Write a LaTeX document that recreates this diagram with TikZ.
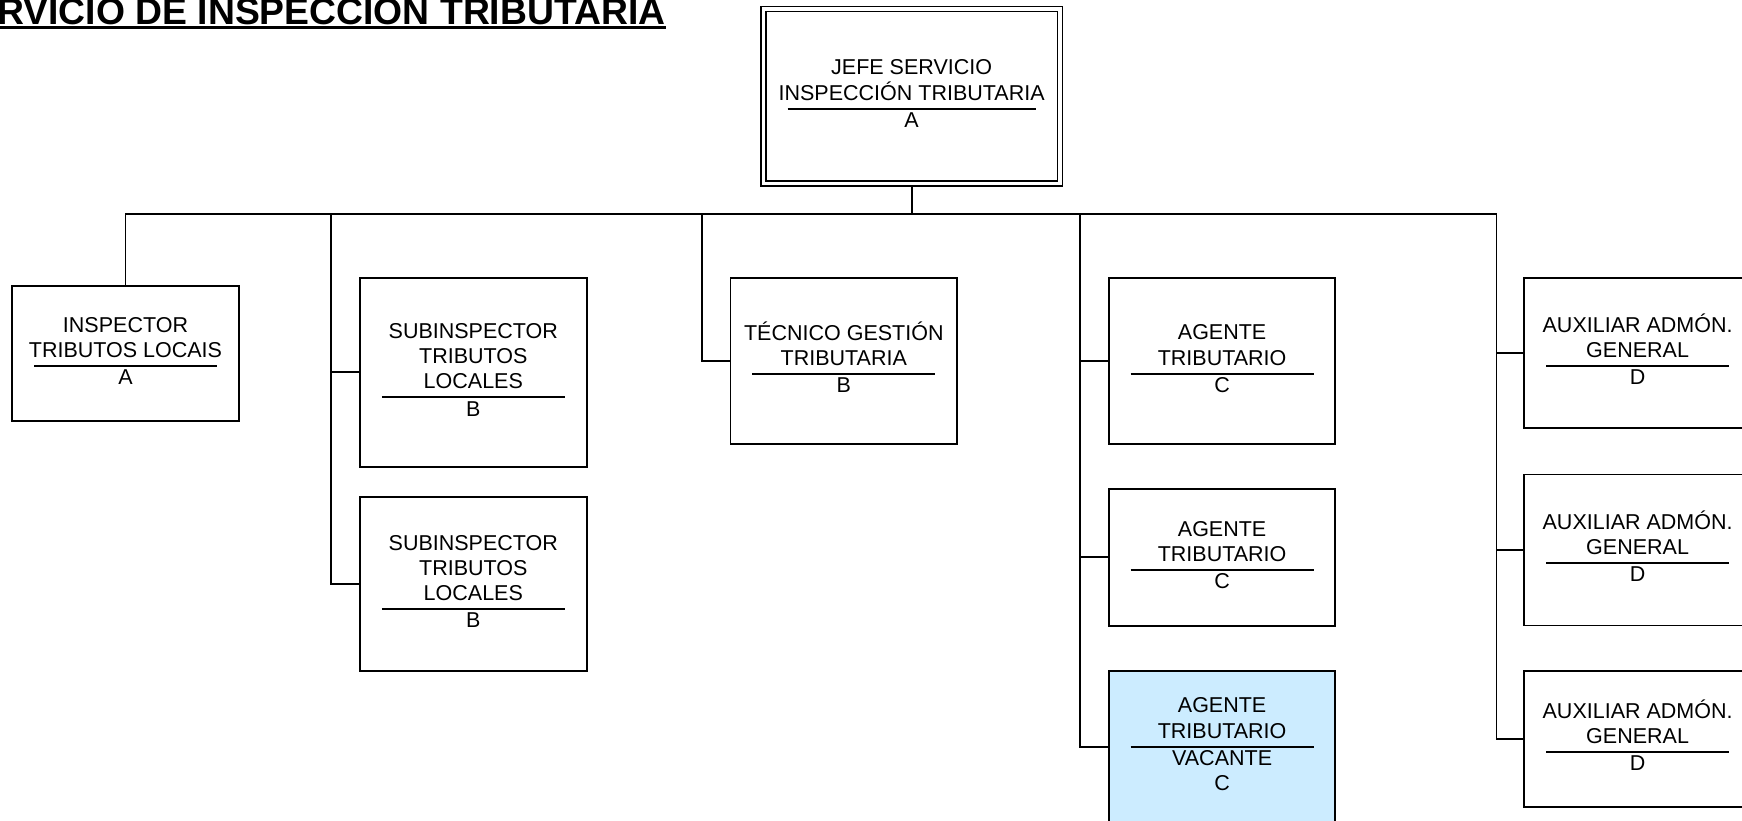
\documentclass[tikz,border=0pt]{standalone}
\usepackage{fontspec}
\setmainfont{Liberation Sans}
\usepackage{array}
\usepackage{tikz}

\newcolumntype{L}[1]{>{\hbox to #1\bgroup\hss}c<{\hss\egroup}}
\setlength{\arrayrulewidth}{2pt}
\newcommand{\cargo}[3][183pt]{\begin{tabular}{@{}L{#1}@{}}#2\\\hline #3\end{tabular}}
\definecolor{vacante}{RGB}{204,236,255}

\begin{document}
\begin{tikzpicture}[x=1pt,y=-1pt,
		puesto/.style={draw,line width=1.9pt,minimum width=226.6pt,inner sep=0pt,font=\fontsize{21.5}{25.2}\selectfont},
		linea/.style={line width=1.9pt}]
		\useasboundingbox (0,0) rectangle (1742,821);
		\node[anchor=base west,inner sep=0pt,font=\bfseries\fontsize{37.3}{40}\selectfont] (titulo) at (-2.8,24.5) {RVICIO DE INSPECCIÓN TRIBUTARIA};
		\draw[line width=3pt] ([yshift=-3.5pt]titulo.base west) -- ([yshift=-3.5pt]titulo.base east);
		\node[puesto,double,double distance=3.5pt,line width=1.5pt,outer sep=3.25pt,minimum width=296.7pt,minimum height=174.5pt] (jefe) at (911.6,96.1) {\cargo[248pt]{JEFE SERVICIO\\INSPECCIÓN TRIBUTARIA}{A}};
		\node[puesto,minimum height=135.5pt] (insp) at (125.5,353.3) {\cargo{INSPECTOR\\TRIBUTOS LOCAIS}{A}};
		\node[puesto,minimum height=188.9pt] (sub1) at (473.3,372.2) {\cargo{SUBINSPECTOR\\TRIBUTOS\\LOCALES}{B}};
		\node[puesto,minimum height=174.4pt] (sub2) at (473.3,583.8) {\cargo{SUBINSPECTOR\\TRIBUTOS\\LOCALES}{B}};
		\node[puesto,minimum height=166.6pt] (tec) at (843.8,361.1) {\cargo{TÉCNICO GESTIÓN\\TRIBUTARIA}{B}};
		\node[puesto,minimum height=166.6pt] (ag1) at (1222.1,361.1) {\cargo{AGENTE\\TRIBUTARIO}{C}};
		\node[puesto,minimum height=136.7pt] (ag2) at (1222.1,557.2) {\cargo{AGENTE\\TRIBUTARIO}{C}};
		\node[puesto,fill=vacante,minimum height=151.5pt] (ag3) at (1222.1,746.6) {\cargo{AGENTE\\TRIBUTARIO}{VACANTE\\C}};
		\node[puesto,minimum height=150pt] (aux1) at (1637.6,352.8) {\cargo{AUXILIAR ADMÓN.\\GENERAL}{D}};
		\node[puesto,minimum height=151pt] (aux2) at (1637.6,550) {\cargo{AUXILIAR ADMÓN.\\GENERAL}{D}};
		\node[puesto,minimum height=135.6pt] (aux3) at (1637.6,738.8) {\cargo{AUXILIAR ADMÓN.\\GENERAL}{D}};
		\coordinate (r2) at (331.1,214.4);
		\coordinate (r3) at (702.2,214.4);
		\coordinate (r4) at (1079.9,214.4);
		\coordinate (r5) at (1496.5,214.4);
		\draw[linea] (jefe) -- (jefe |- r5);
		\draw[linea] (insp) |- (r5);
		\draw[linea] (r2) |- (sub2);
		\draw[linea] (r2 |- sub1) -- (sub1);
		\draw[linea] (r3) |- (tec);
		\draw[linea] (r4) |- (ag3);
		\draw[linea] (r4 |- ag1) -- (ag1);
		\draw[linea] (r4 |- ag2) -- (ag2);
		\draw[linea] (r5) |- (aux3);
		\draw[linea] (r5 |- aux1) -- (aux1);
		\draw[linea] (r5 |- aux2) -- (aux2);
	\end{tikzpicture}
\end{document}
